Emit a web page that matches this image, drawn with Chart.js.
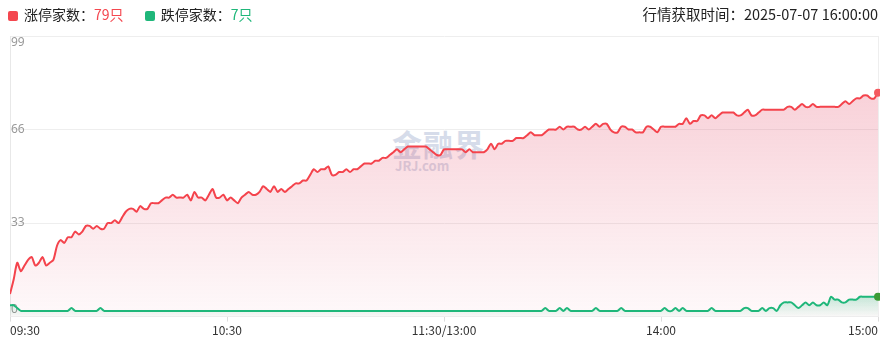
<!DOCTYPE html>
<html>
<head>
<meta charset="utf-8">
<script src="https://cdn.jsdelivr.net/npm/chart.js@4.4.1/dist/chart.umd.min.js"></script>
<style>
  body { margin: 0; background: #fff; font-family: "Noto Sans CJK SC", "Noto Sans", sans-serif; }
  #wrap { position: relative; width: 889px; height: 352px; overflow: hidden; }
  #chart { position: absolute; left: 0; top: 0; z-index: 2; }
  .legend { position: absolute; top: 4px; left: 8px; font-size: 14px; color: #222; z-index: 3; white-space: nowrap; }
  .legend span.item { display: inline-block; margin-right: 18px; }
  .legend i { display: inline-block; width: 10px; height: 10px; border-radius: 2px; margin-right: 6px; vertical-align: -1px; }
  .time { position: absolute; top: 3px; right: 11px; font-size: 14.5px; color: #222; z-index: 3; white-space: nowrap; }
  .wm { position: absolute; left: 392px; top: 128px; z-index: 1; color: #d6dcea; font-weight: bold; line-height: 1; }
  .wm .big { font-size: 30px; letter-spacing: 1px; }
  .wm .small { font-size: 13px; margin-top: 1px; margin-left: 3px; }
</style>
</head>
<body>
<div id="wrap">
  <div class="legend">
    <span class="item"><i style="background:#f4474f"></i>涨停家数：<span id="upNum" style="color:#f4474f"></span></span>
    <span class="item"><i style="background:#1fb77a"></i>跌停家数：<span id="downNum" style="color:#1fb77a"></span></span>
  </div>
  <div class="time" id="timeText"></div>
  <div class="wm"><div class="big">金融界</div><div class="small">JRJ.com</div></div>
  <canvas id="chart" width="889" height="352"></canvas>
</div>
<script>
// 每分钟涨停家数 09:30 - 15:00
const upCounts = [
  8, 13, 19, 16, 18, 20, 21, 18, 19, 21,
  18, 19, 20, 25, 27, 26, 28, 28, 30, 29,
  30, 32, 32, 31, 32, 31, 31, 33, 33, 34,
  33, 35, 37, 38, 38, 37, 39, 38, 38, 40,
  40, 40, 41, 42, 42, 43, 42, 42, 42, 43,
  41, 44, 42, 42, 41, 43, 45, 42, 42, 43,
  41, 42, 41, 40, 42, 43, 44, 43, 43, 44,
  46, 45, 44, 46, 44, 45, 44, 45, 46, 47,
  47, 48, 48, 50, 52, 51, 52, 52, 53, 50,
  50, 51, 51, 52, 51, 52, 52, 53, 54, 54,
  54, 55, 55, 56, 56, 57, 58, 59, 58, 59,
  60, 60, 60, 60, 60, 60, 59, 58, 57, 57,
  59, 59, 59, 59, 59, 59, 58, 59, 58, 58,
  58, 58, 59, 61, 59, 61, 61, 62, 62, 62,
  63, 63, 63, 64, 65, 64, 64, 64, 65, 66,
  66, 66, 67, 66, 67, 67, 67, 66, 66, 67,
  66, 67, 68, 67, 68, 68, 66, 65, 65, 67,
  67, 66, 66, 65, 65, 65, 67, 67, 66, 65,
  67, 67, 67, 67, 67, 68, 68, 70, 68, 69,
  69, 71, 71, 70, 71, 70, 71, 72, 72, 72,
  72, 71, 71, 72, 73, 71, 71, 72, 73, 73,
  73, 73, 73, 73, 73, 74, 74, 73, 74, 75,
  74, 74, 75, 74, 74, 74, 74, 74, 74, 74,
  75, 76, 75, 76, 77, 77, 78, 78, 77, 77,
  79
];

// 每分钟跌停家数
const downCounts = [
  4, 4, 3, 2, 2, 2, 2, 2, 2, 2,
  2, 2, 2, 2, 2, 2, 2, 3, 2, 2,
  2, 2, 2, 2, 2, 3, 2, 2, 2, 2,
  2, 2, 2, 2, 2, 2, 2, 2, 2, 2,
  2, 2, 2, 2, 2, 2, 2, 2, 2, 2,
  2, 2, 2, 2, 2, 2, 2, 2, 2, 2,
  2, 2, 2, 2, 2, 2, 2, 2, 2, 2,
  2, 2, 2, 2, 2, 2, 2, 2, 2, 2,
  2, 2, 2, 2, 2, 2, 2, 2, 2, 2,
  2, 2, 2, 2, 2, 2, 2, 2, 2, 2,
  2, 2, 2, 2, 2, 2, 2, 2, 2, 2,
  2, 2, 2, 2, 2, 2, 2, 2, 2, 2,
  2, 2, 2, 2, 2, 2, 2, 2, 2, 2,
  2, 2, 2, 2, 2, 2, 2, 2, 2, 2,
  2, 2, 2, 2, 2, 2, 2, 2, 3, 2,
  2, 2, 3, 2, 3, 2, 2, 2, 2, 2,
  2, 2, 3, 2, 2, 2, 2, 2, 2, 3,
  2, 2, 2, 2, 2, 2, 2, 2, 2, 2,
  2, 3, 2, 2, 3, 2, 3, 2, 2, 2,
  2, 2, 2, 2, 3, 2, 2, 2, 2, 2,
  2, 2, 2, 3, 3, 2, 2, 2, 3, 2,
  3, 3, 2, 4, 5, 5, 5, 4, 3, 4,
  5, 4, 5, 4, 4, 5, 4, 7, 6, 6,
  5, 5, 6, 6, 6, 7, 7, 7, 7, 7,
  7
];

const tickMinutes = [0, 60, 120, 180, 240];
const tickLabels = ["09:30", "10:30", "11:30/13:00", "14:00", "15:00"];
const yTicks = [0, 33, 66, 99];
const updateTime = "2025-07-07 16:00:00";

const lastIdx = upCounts.length - 1;
document.querySelector("#upNum").textContent = `${upCounts[lastIdx]}只`;
document.querySelector("#downNum").textContent = `${downCounts[downCounts.length - 1]}只`;
document.querySelector("#timeText").textContent = `行情获取时间：${updateTime}`;

const toPoints = (arr) => arr.map((v, i) => ({ x: i, y: v }));

//红色渐变
const upFill = (ctx) => {
  const { chart } = ctx;
  const area = chart.chartArea;
  if (!area) return "rgba(236,70,95,0.1)";
  const g = chart.ctx.createLinearGradient(0, area.top, 0, area.bottom);
  g.addColorStop(0, "rgba(228,70,100,0.30)");
  g.addColorStop(1, "rgba(228,70,100,0.03)");
  return g;
};
//绿色渐变
const downFill = (ctx) => {
  const { chart } = ctx;
  const area = chart.chartArea;
  if (!area) return "rgba(31,183,122,0.1)";
  const top = chart.scales.y.getPixelForValue(8);
  const g = chart.ctx.createLinearGradient(0, top, 0, area.bottom);
  g.addColorStop(0, "rgba(31,183,122,0.28)");
  g.addColorStop(1, "rgba(31,183,122,0.02)");
  return g;
};

const lastPointRadius = (ctx) => (ctx.dataIndex === lastIdx ? 4 : 0);

const config = {
  type: "line",
  data: {
    datasets: [
      {
        label: "跌停家数",
        data: toPoints(downCounts),
        borderColor: "#1fb77a",
        borderWidth: 2,
        backgroundColor: downFill,
        fill: "origin",
        tension: 0.3,
        pointRadius: lastPointRadius,
        pointBackgroundColor: "#3d9a35",
        pointBorderWidth: 0,
        clip: { left: 0, top: 0, right: 2, bottom: 0 },
      },
      {
        label: "涨停家数",
        data: toPoints(upCounts),
        borderColor: "#f4434c",
        borderWidth: 2,
        backgroundColor: upFill,
        fill: "origin",
        tension: 0.25,
        pointRadius: lastPointRadius,
        pointBackgroundColor: "#f45a60",
        pointBorderWidth: 0,
        clip: { left: 0, top: 0, right: 2, bottom: 0 },
      },
    ],
  },
  options: {
    responsive: false,
    animation: false,
    layout: { padding: { left: 8, right: 11, top: 36, bottom: 12 } },
    plugins: { legend: { display: false }, tooltip: { enabled: false } },
    scales: {
      x: {
        type: "linear",
        min: 0,
        max: 240,
        afterBuildTicks: (scale) => {
          scale.ticks = tickMinutes.map((v) => ({ value: v }));
        },
        ticks: {
          autoSkip: false,
          maxRotation: 0,
          align: "inner",
          padding: 2,
          color: "#333",
          font: { size: 12, family: "'Noto Sans CJK SC', 'Noto Sans', sans-serif" },
          callback: (value) => tickLabels[tickMinutes.indexOf(value)],
        },
        grid: { drawOnChartArea: false, drawTicks: true, tickLength: 5, color: "#dddddd" },
        border: { display: true, color: "#eeeeee" },
      },
      y: {
        min: 0,
        max: 99,
        afterBuildTicks: (scale) => {
          scale.ticks = yTicks.map((v) => ({ value: v }));
        },
        ticks: {
          mirror: true,
          padding: 1,
          color: "#999",
          font: { size: 12, family: "'Noto Sans', sans-serif", lineHeight: 1.1 },
          //最上和最下的刻度放进图内
          callback: (value) => {
            if (value === yTicks[yTicks.length - 1]) return ["", String(value)];
            if (value === yTicks[0]) return [String(value), ""];
            return String(value);
          },
        },
        grid: { color: "#eeeeee", drawTicks: false },
        border: { display: true, color: "#e8e8e8" },
      },
      yRight: {
        position: "right",
        min: 0,
        max: 99,
        ticks: { display: false },
        grid: { drawOnChartArea: false, drawTicks: false },
        border: { display: true, color: "#eeeeee" },
      },
    },
  },
};

const chart = new Chart(document.querySelector("#chart"), config);
</script>
</body>
</html>
